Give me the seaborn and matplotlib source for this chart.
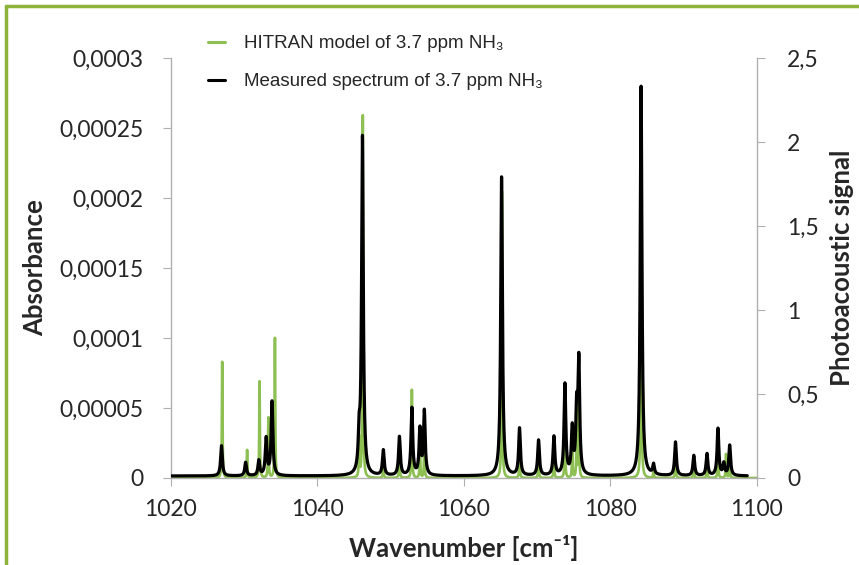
import numpy as np
import pandas as pd
import matplotlib
matplotlib.use("Agg")
import matplotlib.pyplot as plt
import seaborn as sns
from matplotlib.lines import Line2D

# HITRAN model lines: wavenumber [cm-1] and peak absorbance
hitran_pos = [1027.0, 1030.4, 1032.1, 1033.3, 1034.2, 1045.7, 1046.2, 1049.0,
              1051.2, 1052.9, 1054.0, 1054.6, 1065.2, 1067.6, 1070.2, 1072.3,
              1073.8, 1074.8, 1075.4, 1075.7, 1084.2, 1085.9, 1088.9, 1091.4,
              1093.2, 1094.7, 1095.8, 1096.3]
hitran_abs = [8.3e-5, 2.0e-5, 6.9e-5, 4.3e-5, 10.0e-5, 2.8e-5, 25.9e-5, 1.2e-5,
              2.2e-5, 6.3e-5, 2.6e-5, 3.0e-5, 20.5e-5, 2.2e-5, 1.8e-5, 2.0e-5,
              4.8e-5, 2.4e-5, 3.6e-5, 6.0e-5, 26.5e-5, 0.6e-5, 1.8e-5, 1.0e-5,
              1.2e-5, 2.4e-5, 1.7e-5, 1.4e-5]

# measured photoacoustic spectrum: peak positions and signal heights
meas_pos = [1026.9, 1030.2, 1032.0, 1033.0, 1033.8, 1045.7, 1046.15, 1049.0,
            1051.2, 1052.9, 1054.0, 1054.6, 1065.15, 1067.6, 1070.2, 1072.3,
            1073.8, 1074.8, 1075.4, 1075.7, 1084.2, 1085.9, 1088.9, 1091.4,
            1093.2, 1094.7, 1095.5, 1096.3]
meas_sig = [0.18, 0.08, 0.09, 0.22, 0.44, 0.20, 2.01, 0.15,
            0.23, 0.40, 0.27, 0.38, 1.78, 0.28, 0.21, 0.23,
            0.54, 0.27, 0.36, 0.66, 2.32, 0.06, 0.20, 0.12,
            0.13, 0.28, 0.07, 0.18]
meas_base = 0.012
meas_end = 1098.7

x_ticks = [1020, 1040, 1060, 1080, 1100]
abs_ticks = [0, 0.00005, 0.0001, 0.00015, 0.0002, 0.00025, 0.0003]
abs_labels = ["0", "0,00005", "0,0001", "0,00015", "0,0002", "0,00025", "0,0003"]
pa_ticks = [0, 0.5, 1, 1.5, 2, 2.5]
pa_labels = ["0", "0,5", "1", "1,5", "2", "2,5"]


def line_profile(grid, pos, heights, hw):
    # lorentzian line shape for each listed peak
    out = np.zeros_like(grid)
    for p, h in zip(pos, heights):
        out += h * hw**2 / ((grid - p)**2 + hw**2)
    return out


wn_model = np.arange(1020, 1100, 0.004)
wn_meas = np.arange(1020, meas_end, 0.004)
df_model = pd.DataFrame({"wn": wn_model,
                         "absorbance": line_profile(wn_model, hitran_pos, hitran_abs, 0.05)})
df_meas = pd.DataFrame({"wn": wn_meas,
                        "signal": meas_base + line_profile(wn_meas, meas_pos, meas_sig, 0.14)})

sns.set_style("white")
plt.rcParams['font.family'] = ['Lato', 'DejaVu Sans']

green = "#8dbf52"
gray = "#b0b0b0"

fig = plt.figure(figsize=(8.59, 5.65), dpi=100)
ax = fig.add_axes([0.199, 0.154, 0.682, 0.743])
ax2 = ax.twinx()

sns.lineplot(data=df_model, x="wn", y="absorbance", ax=ax, color=green, lw=1.9,
             estimator=None, sort=False)
sns.lineplot(data=df_meas, x="wn", y="signal", ax=ax2, color="black", lw=2.3,
             estimator=None, sort=False)

ax.set_xlim(1020, 1100)
ax.set_ylim(0, 0.0003)
ax2.set_ylim(0, 2.5)
ax.set_xticks(x_ticks)
ax.set_xticklabels([str(t) for t in x_ticks])
ax.set_yticks(abs_ticks)
ax.set_yticklabels(abs_labels)
ax2.set_yticks(pa_ticks)
ax2.set_yticklabels(pa_labels)

for a in (ax, ax2):
    a.spines['top'].set_visible(False)
    for s in a.spines.values():
        s.set_color(gray)
        s.set_linewidth(1.0)
ax2.spines['left'].set_visible(False)
ax2.spines['bottom'].set_visible(False)
ax.spines['right'].set_visible(False)

ax.tick_params(axis='y', direction='out', length=6, color=gray, labelsize=16.5, pad=14, left=True)
ax.tick_params(axis='x', direction='out', length=6, color=gray, labelsize=16.5, pad=9, bottom=True)
ax2.tick_params(axis='y', direction='out', length=6, color=gray, labelsize=16.5, pad=16, right=True)

ax.set_xlabel("Wavenumber [cm⁻¹]", fontsize=18.5, fontweight='bold')
ax.set_ylabel("Absorbance", fontsize=18.5, fontweight='bold')
ax2.set_ylabel("Photoacoustic signal", fontsize=18.5, fontweight='bold')
ax.xaxis.set_label_coords(0.5, -0.135)
ax.yaxis.set_label_coords(-0.212, 0.5)
ax2.yaxis.set_label_coords(1.125, 0.5)

handles = [Line2D([], [], color=green, lw=2.2), Line2D([], [], color="black", lw=2.2)]
labels = ["HITRAN model of 3.7 ppm NH₃", "Measured spectrum of 3.7 ppm NH₃"]
leg = ax2.legend(handles, labels, loc='upper left', bbox_to_anchor=(0.035, 1.095),
                 frameon=False, handlelength=0.9, handletextpad=1.0, labelspacing=1.1,
                 prop={'family': ['Liberation Sans', 'DejaVu Sans'], 'size': 13.5})

# green frame round the figure
frame = "#8db33a"
fig.add_artist(Line2D([0.007, 0.007], [0.0, 0.99], transform=fig.transFigure, color=frame, lw=2.5))
fig.add_artist(Line2D([0.007, 1.0], [0.99, 0.99], transform=fig.transFigure, color=frame, lw=2.5))

fig.savefig("out.png", dpi=100)
